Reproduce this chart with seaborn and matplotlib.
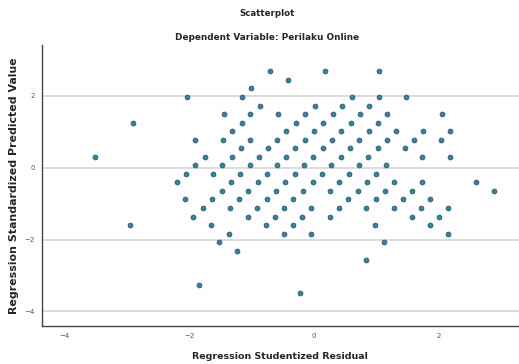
"""SPSS-style residual scatterplot: Perilaku Online."""

import matplotlib
matplotlib.use("Agg")
import matplotlib.pyplot as plt
import seaborn as sns
import pandas as pd

# Regression Studentized Residual (x) and Standardized Predicted Value (y)
residual = [
    -0.71, 0.17, 1.05,
    -0.42,
    -1.01,
    -2.03, -1.16, 0.61, 1.04, 1.48,
    -0.87, 0.01, 0.45, 0.89,
    -1.45, -1.02, -0.58, -0.14, 0.30, 0.74, 1.18, 2.05,
    -2.91, -1.16, -0.29, 0.15, 0.59, 1.03,
    -1.31, -0.44, 0.00, 0.44, 0.88, 1.32, 1.75, 2.19,
    -1.90, -1.46, -1.02, -0.59, -0.15, 0.29, 0.73, 1.17, 1.60, 2.04,
    -1.17, -0.73, -0.30, 0.14, 0.58, 1.02, 1.46,
    -3.51, -1.75, -1.32, -0.88, -0.45, -0.01, 0.43, 0.87, 1.74, 2.18,
    -1.90, -1.47, -1.03, -0.60, -0.16, 0.28, 0.72, 1.16,
    -2.05, -1.62, -1.18, -0.75, -0.31, 0.13, 0.56, 1.00,
    -2.20, -1.33, -0.90, -0.46, -0.02, 0.41, 0.85, 1.29, 1.73, 2.60,
    -1.48, -1.05, -0.61, -0.17, 0.26, 0.70, 1.14, 1.58, 2.89,
    -2.07, -1.63, -1.20, -0.76, -0.33, 0.55, 0.99, 1.43, 1.87,
    -1.78, -1.35, -0.91, -0.48, -0.04, 0.40, 0.84, 1.28, 1.72, 2.15,
    -1.94, -1.06, -0.62, -0.19, 0.25, 1.57, 2.01,
    -2.95, -1.65, -0.77, -0.33, 0.98, 1.86,
    -1.37, -0.48, -0.04, 2.15,
    -1.52, 1.12,
    -1.23,
    0.83,
    -1.84,
    -0.22,
]
predicted = (
    [2.69] * 3 + [2.44] * 1 + [2.21] * 1 + [1.97] * 5 + [1.73] * 4
    + [1.49] * 8 + [1.25] * 6 + [1.02] * 8 + [0.78] * 10 + [0.54] * 7
    + [0.31] * 10 + [0.07] * 8 + [-0.17] * 8 + [-0.41] * 10 + [-0.65] * 9
    + [-0.88] * 9 + [-1.13] * 10 + [-1.36] * 7 + [-1.60] * 6 + [-1.84] * 4
    + [-2.07] * 2 + [-2.31] * 1 + [-2.56] * 1 + [-3.27] * 1 + [-3.50] * 1
)
ticks = [-4, -2, 0, 2]

df = pd.DataFrame({"resid": residual, "pred": predicted})

sns.set_theme(style="white")
plt.rcParams["font.family"] = ["DejaVu Sans"]

fig = plt.figure(figsize=(5.19, 3.64), dpi=100)
ax = fig.add_axes([0.080, 0.104, 0.92, 0.772])

sns.scatterplot(
    data=df, x="resid", y="pred", ax=ax, s=12,
    color="#3386a3", edgecolor="#2a5868", linewidth=0.6, zorder=3,
)

ax.set_xlim(-4.37, 3.29)
ax.set_ylim(-4.41, 3.41)
ax.set_xticks(ticks)
ax.set_yticks(ticks)
ax.tick_params(axis="both", length=0, labelsize=5, labelcolor="#555555", pad=5)
for y in ticks:
    ax.axhline(y, color="#d6d6d6", linewidth=1.2, zorder=1)

sns.despine(ax=ax)
for side in ("left", "bottom"):
    ax.spines[side].set_color("#444444")
    ax.spines[side].set_linewidth(1.0)

ax.set_xlabel("Regression Studentized Residual", fontsize=6.8,
              fontweight="bold", labelpad=9)
ax.set_ylabel("Regression Standardized Predicted Value", fontsize=7.9,
              fontweight="bold", labelpad=4)
fig.text(0.515, 0.962, "Scatterplot", ha="center", va="center",
         fontsize=6.2, fontweight="bold")
fig.text(0.515, 0.898, "Dependent Variable: Perilaku Online", ha="center",
         va="center", fontsize=6.4, fontweight="bold")

fig.savefig("out.png", dpi=100)
plt.close(fig)
